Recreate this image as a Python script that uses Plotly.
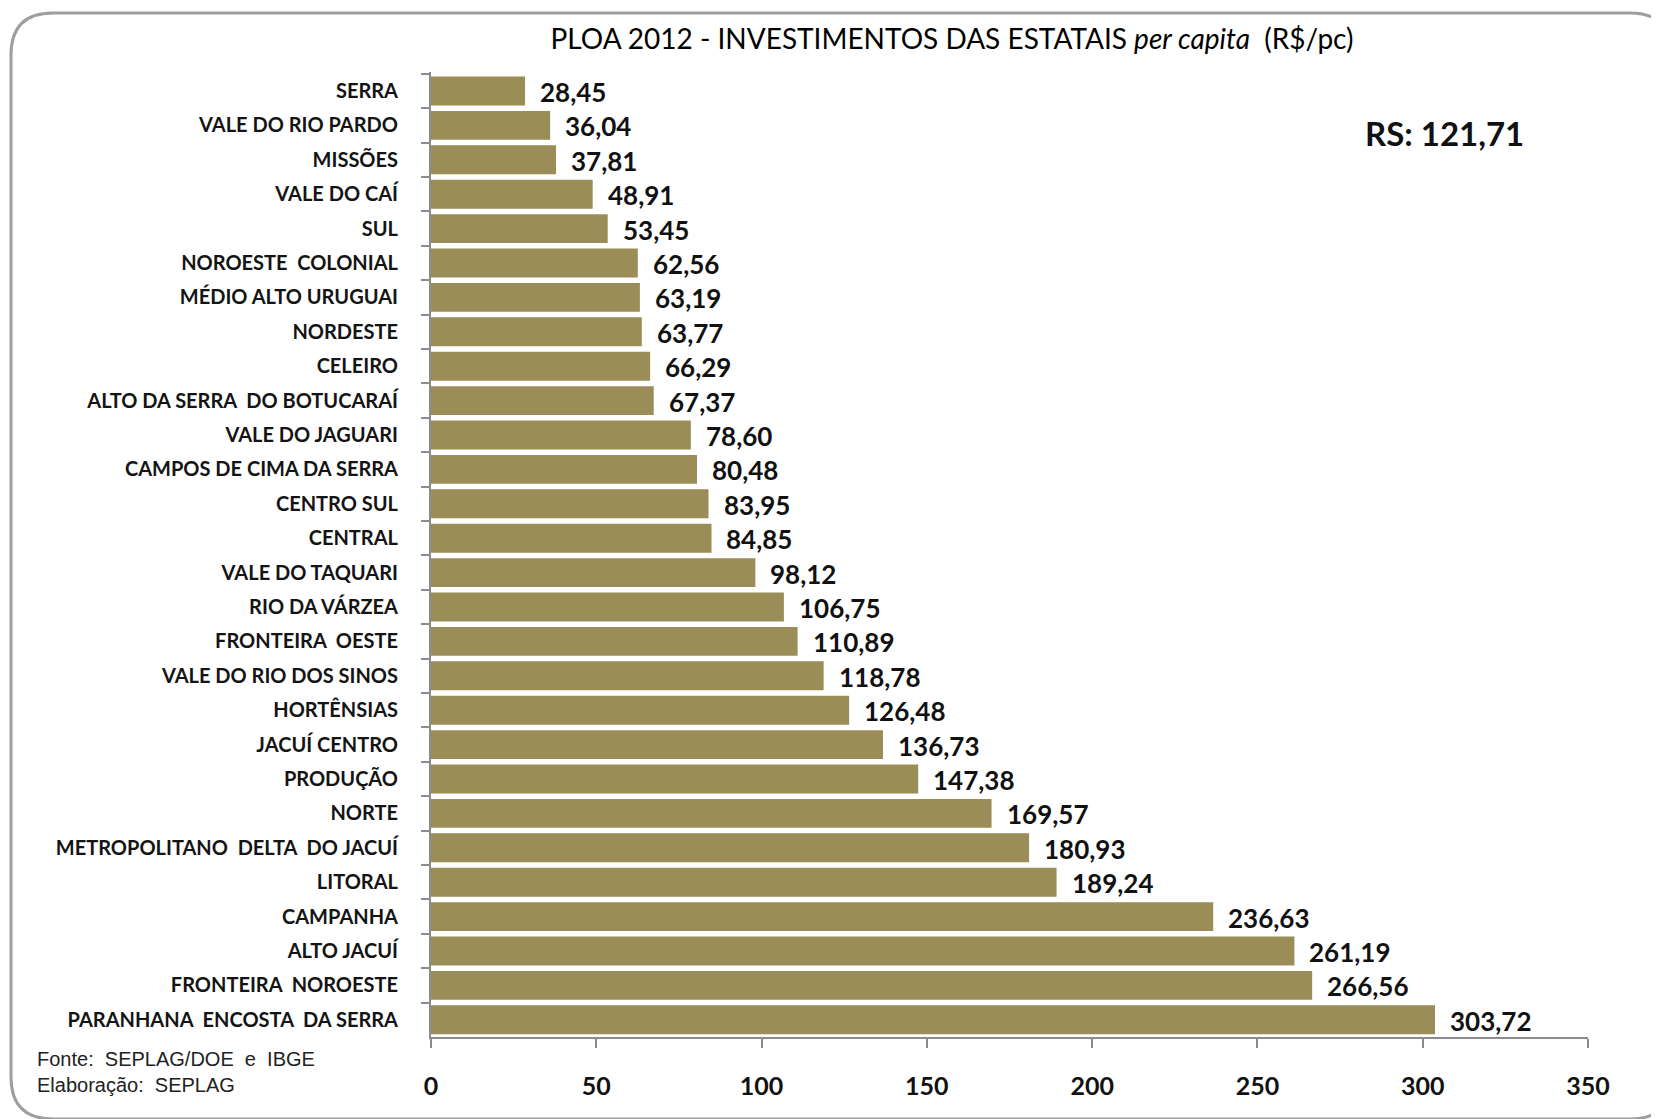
import plotly.graph_objects as go

categories = [
    "SERRA", "VALE DO RIO PARDO", "MISSÕES", "VALE DO CAÍ", "SUL",
    "NOROESTE  COLONIAL", "MÉDIO ALTO URUGUAI", "NORDESTE", "CELEIRO",
    "ALTO DA SERRA  DO BOTUCARAÍ", "VALE DO JAGUARI", "CAMPOS DE CIMA DA SERRA",
    "CENTRO SUL", "CENTRAL", "VALE DO TAQUARI", "RIO DA VÁRZEA",
    "FRONTEIRA  OESTE", "VALE DO RIO DOS SINOS", "HORTÊNSIAS", "JACUÍ CENTRO",
    "PRODUÇÃO", "NORTE", "METROPOLITANO  DELTA  DO JACUÍ", "LITORAL",
    "CAMPANHA", "ALTO JACUÍ", "FRONTEIRA  NOROESTE", "PARANHANA  ENCOSTA  DA SERRA",
]
values = [
    28.45, 36.04, 37.81, 48.91, 53.45, 62.56, 63.19, 63.77, 66.29, 67.37,
    78.60, 80.48, 83.95, 84.85, 98.12, 106.75, 110.89, 118.78, 126.48, 136.73,
    147.38, 169.57, 180.93, 189.24, 236.63, 261.19, 266.56, 303.72,
]
x_ticks = [0, 50, 100, 150, 200, 250, 300, 350]
title_text = "PLOA 2012 - INVESTIMENTOS DAS ESTATAIS <i>per capita</i>  (R$/pc)"
total_text = "RS: 121,71"
source_text = "Fonte:  SEPLAG/DOE  e  IBGE<br>Elaboração:  SEPLAG"

# page body has an 8px margin; work in window pixels and shift
OFF = 8
W, H = 1659 - OFF, 1119 - OFF
L, R, T, B = 431 - OFF, 1588 - OFF, 72 - OFF, 1037 - OFF


def px(x):
    return (x - OFF - L) / (R - L)


def py(y):
    return 1 - (y - OFF - T) / (B - T)


def fmt(v):
    return f"{v:.2f}".replace(".", ",")


def nb(s):
    return s.replace("  ", "\u00a0\u00a0")


labels_disp = [nb(c) for c in categories]

fig = go.Figure()
fig.add_trace(go.Bar(
    x=values, y=labels_disp, orientation="h",
    marker=dict(color="#9A8D57", line=dict(width=0)),
    hoverinfo="x+y",
))

for c, v in zip(labels_disp, values):
    fig.add_annotation(
        x=v, y=c, xref="x", yref="y", text=fmt(v), showarrow=False,
        xanchor="left", yanchor="middle", xshift=13, yshift=-1,
        font=dict(family="Lato", size=26, color="#111111", weight="bold"),
    )

fig.add_annotation(
    x=px(1363), y=py(133), xref="paper", yref="paper", text="<b>" + total_text + "</b>",
    showarrow=False, xanchor="left", yanchor="middle",
    font=dict(family="Lato", size=33, color="#111111"),
)
fig.add_annotation(
    x=px(35), y=py(1072), xref="paper", yref="paper", text=nb(source_text),
    showarrow=False, xanchor="left", yanchor="middle", align="left",
    font=dict(family="Liberation Sans Narrow, Liberation Sans", size=20, color="#222222"),
)

# rounded border
x0, y0, x1, y1, r = 11, 13, 1672, 1119, 42
path = (
    f"M {px(x0)},{py(y0 + r)} Q {px(x0)},{py(y0)} {px(x0 + r)},{py(y0)} "
    f"L {px(x1 - r)},{py(y0)} Q {px(x1)},{py(y0)} {px(x1)},{py(y0 + r)} "
    f"L {px(x1)},{py(y1 - r)} Q {px(x1)},{py(y1)} {px(x1 - r)},{py(y1)} "
    f"L {px(x0 + r)},{py(y1)} Q {px(x0)},{py(y1)} {px(x0)},{py(y1 - r)} Z"
)
fig.add_shape(type="path", path=path, xref="paper", yref="paper",
              line=dict(color="#9E9E9E", width=3), layer="below")

fig.update_layout(
    width=W, height=H,
    margin=dict(l=L, r=W - R, t=T, b=H - B),
    paper_bgcolor="white", plot_bgcolor="white",
    bargap=0.16,
    showlegend=False,
    title=dict(
        text=title_text, x=(952 - OFF) / W, xanchor="center", xref="container",
        y=1 - (39 - OFF) / H, yanchor="middle", yref="container",
        font=dict(family="Lato", size=28, color="#000000"),
    ),
    xaxis=dict(
        range=[0, 350], tickvals=x_ticks, ticktext=[str(t) for t in x_ticks],
        showgrid=False, zeroline=False,
        showline=True, linecolor="#8C8C8C", linewidth=2,
        ticks="outside", ticklen=9, tickwidth=2, tickcolor="#8C8C8C",
        ticklabelstandoff=17,
        tickfont=dict(family="Lato", size=25, color="#111111", weight="bold"),
    ),
    yaxis=dict(
        autorange="reversed", showgrid=False, zeroline=False,
        showline=True, linecolor="#8C8C8C", linewidth=2,
        ticks="outside", ticklen=8, tickwidth=2, tickcolor="#8C8C8C",
        tickson="boundaries", ticklabelstandoff=27,
        tickfont=dict(family="Lato", size=20, color="#141414", weight="bold"),
    ),
)

fig.write_html("out.html")
